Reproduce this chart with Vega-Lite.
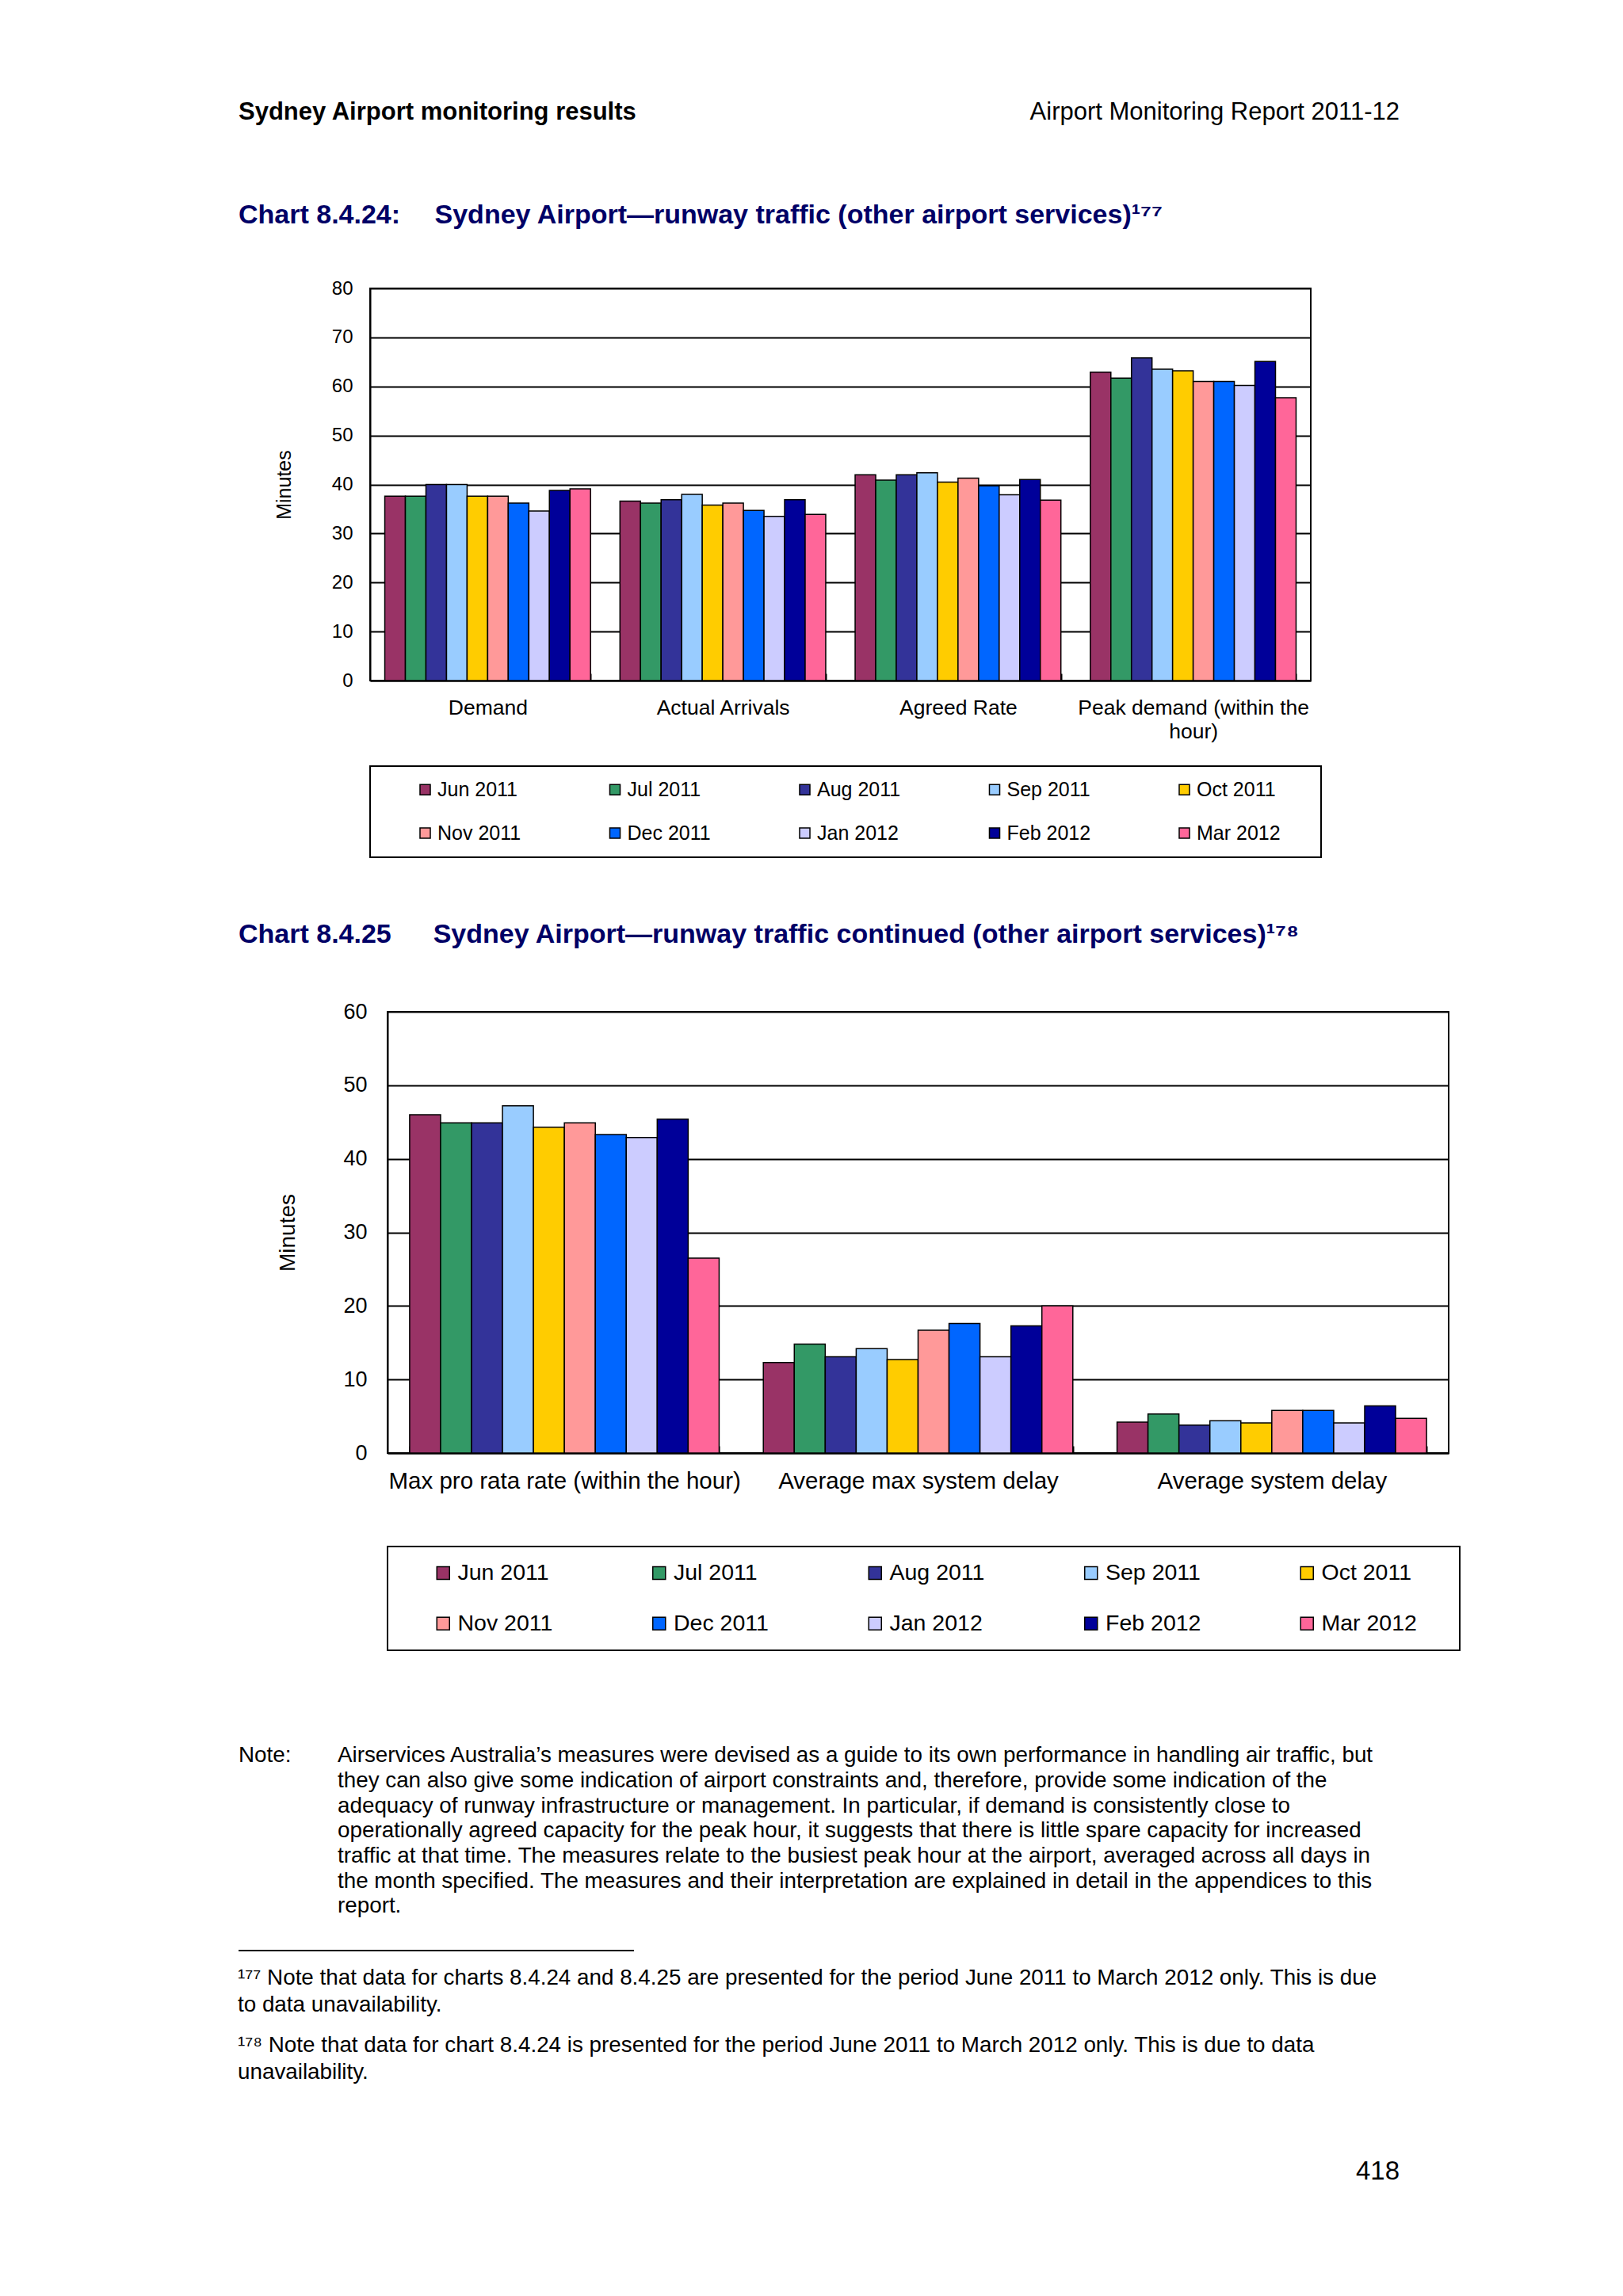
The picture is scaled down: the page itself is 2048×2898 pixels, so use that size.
{
  "$schema": "https://vega.github.io/schema/vega-lite/v6.json",
  "background": "white",
  "padding": {"left": 300, "top": 100, "right": 10, "bottom": 10},
  "config": {
    "font": "Liberation Sans",
    "view": {"stroke": null},
    "title": {"font": "Liberation Sans", "color": "black", "subtitleFont": "Liberation Sans", "subtitleColor": "black"},
    "axis": {"labelFont": "Liberation Sans", "titleFont": "Liberation Sans", "labelColor": "black", "titleColor": "black"},
    "legend": {"labelFont": "Liberation Sans", "labelColor": "black", "strokeWidth": 2}
  },
  "datasets": {
    "runway": [
      {"measure": "Demand", "month": "Jun 2011", "minutes": 37.6},
      {"measure": "Demand", "month": "Jul 2011", "minutes": 37.6},
      {"measure": "Demand", "month": "Aug 2011", "minutes": 40.0},
      {"measure": "Demand", "month": "Sep 2011", "minutes": 40.0},
      {"measure": "Demand", "month": "Oct 2011", "minutes": 37.6},
      {"measure": "Demand", "month": "Nov 2011", "minutes": 37.6},
      {"measure": "Demand", "month": "Dec 2011", "minutes": 36.2},
      {"measure": "Demand", "month": "Jan 2012", "minutes": 34.6},
      {"measure": "Demand", "month": "Feb 2012", "minutes": 38.8},
      {"measure": "Demand", "month": "Mar 2012", "minutes": 39.1},
      {"measure": "Actual Arrivals", "month": "Jun 2011", "minutes": 36.6},
      {"measure": "Actual Arrivals", "month": "Jul 2011", "minutes": 36.2},
      {"measure": "Actual Arrivals", "month": "Aug 2011", "minutes": 36.9},
      {"measure": "Actual Arrivals", "month": "Sep 2011", "minutes": 38.0},
      {"measure": "Actual Arrivals", "month": "Oct 2011", "minutes": 35.8},
      {"measure": "Actual Arrivals", "month": "Nov 2011", "minutes": 36.2},
      {"measure": "Actual Arrivals", "month": "Dec 2011", "minutes": 34.7},
      {"measure": "Actual Arrivals", "month": "Jan 2012", "minutes": 33.5},
      {"measure": "Actual Arrivals", "month": "Feb 2012", "minutes": 36.9},
      {"measure": "Actual Arrivals", "month": "Mar 2012", "minutes": 33.9},
      {"measure": "Agreed Rate", "month": "Jun 2011", "minutes": 42.0},
      {"measure": "Agreed Rate", "month": "Jul 2011", "minutes": 40.9},
      {"measure": "Agreed Rate", "month": "Aug 2011", "minutes": 42.0},
      {"measure": "Agreed Rate", "month": "Sep 2011", "minutes": 42.4},
      {"measure": "Agreed Rate", "month": "Oct 2011", "minutes": 40.5},
      {"measure": "Agreed Rate", "month": "Nov 2011", "minutes": 41.3},
      {"measure": "Agreed Rate", "month": "Dec 2011", "minutes": 39.7},
      {"measure": "Agreed Rate", "month": "Jan 2012", "minutes": 37.9},
      {"measure": "Agreed Rate", "month": "Feb 2012", "minutes": 41.0},
      {"measure": "Agreed Rate", "month": "Mar 2012", "minutes": 36.8},
      {"measure": "Peak demand (within the hour)", "month": "Jun 2011", "minutes": 62.9},
      {"measure": "Peak demand (within the hour)", "month": "Jul 2011", "minutes": 61.7},
      {"measure": "Peak demand (within the hour)", "month": "Aug 2011", "minutes": 65.8},
      {"measure": "Peak demand (within the hour)", "month": "Sep 2011", "minutes": 63.5},
      {"measure": "Peak demand (within the hour)", "month": "Oct 2011", "minutes": 63.2},
      {"measure": "Peak demand (within the hour)", "month": "Nov 2011", "minutes": 61.0},
      {"measure": "Peak demand (within the hour)", "month": "Dec 2011", "minutes": 61.0},
      {"measure": "Peak demand (within the hour)", "month": "Jan 2012", "minutes": 60.2},
      {"measure": "Peak demand (within the hour)", "month": "Feb 2012", "minutes": 65.1},
      {"measure": "Peak demand (within the hour)", "month": "Mar 2012", "minutes": 57.7}
    ],
    "continued": [
      {"measure": "Max pro rata rate (within the hour)", "month": "Jun 2011", "minutes": 46.0},
      {"measure": "Max pro rata rate (within the hour)", "month": "Jul 2011", "minutes": 44.9},
      {"measure": "Max pro rata rate (within the hour)", "month": "Aug 2011", "minutes": 44.9},
      {"measure": "Max pro rata rate (within the hour)", "month": "Sep 2011", "minutes": 47.2},
      {"measure": "Max pro rata rate (within the hour)", "month": "Oct 2011", "minutes": 44.3},
      {"measure": "Max pro rata rate (within the hour)", "month": "Nov 2011", "minutes": 44.9},
      {"measure": "Max pro rata rate (within the hour)", "month": "Dec 2011", "minutes": 43.3},
      {"measure": "Max pro rata rate (within the hour)", "month": "Jan 2012", "minutes": 42.9},
      {"measure": "Max pro rata rate (within the hour)", "month": "Feb 2012", "minutes": 45.4},
      {"measure": "Max pro rata rate (within the hour)", "month": "Mar 2012", "minutes": 26.5},
      {"measure": "Average max  system delay", "month": "Jun 2011", "minutes": 12.3},
      {"measure": "Average max  system delay", "month": "Jul 2011", "minutes": 14.8},
      {"measure": "Average max  system delay", "month": "Aug 2011", "minutes": 13.1},
      {"measure": "Average max  system delay", "month": "Sep 2011", "minutes": 14.2},
      {"measure": "Average max  system delay", "month": "Oct 2011", "minutes": 12.7},
      {"measure": "Average max  system delay", "month": "Nov 2011", "minutes": 16.7},
      {"measure": "Average max  system delay", "month": "Dec 2011", "minutes": 17.6},
      {"measure": "Average max  system delay", "month": "Jan 2012", "minutes": 13.1},
      {"measure": "Average max  system delay", "month": "Feb 2012", "minutes": 17.3},
      {"measure": "Average max  system delay", "month": "Mar 2012", "minutes": 20.0},
      {"measure": "Average system delay", "month": "Jun 2011", "minutes": 4.2},
      {"measure": "Average system delay", "month": "Jul 2011", "minutes": 5.3},
      {"measure": "Average system delay", "month": "Aug 2011", "minutes": 3.8},
      {"measure": "Average system delay", "month": "Sep 2011", "minutes": 4.4},
      {"measure": "Average system delay", "month": "Oct 2011", "minutes": 4.1},
      {"measure": "Average system delay", "month": "Nov 2011", "minutes": 5.8},
      {"measure": "Average system delay", "month": "Dec 2011", "minutes": 5.8},
      {"measure": "Average system delay", "month": "Jan 2012", "minutes": 4.1},
      {"measure": "Average system delay", "month": "Feb 2012", "minutes": 6.4},
      {"measure": "Average system delay", "month": "Mar 2012", "minutes": 4.7}
    ]
  },
  "resolve": {"scale": {"color": "independent", "xOffset": "independent"}, "legend": {"color": "independent"}},
  "spacing": 0,
  "vconcat": [
    {
      "bounds": "flush",
      "spacing": 0,
      "hconcat": [
        {
          "width": 732, "height": 80,
          "data": {"values": []}, "mark": "text", "encoding": {},
          "title": {"text": "Sydney Airport monitoring results", "orient": "bottom", "anchor": "start", "fontSize": 31, "fontWeight": "bold", "offset": -53.3}
        },
        {
          "width": 733, "height": 80,
          "data": {"values": []}, "mark": "text", "encoding": {},
          "title": {"text": "Airport Monitoring Report 2011-12", "orient": "bottom", "anchor": "end", "fontSize": 31, "fontWeight": "normal", "offset": -53.3}
        }
      ]
    },
    {
      "width": 1465, "height": 171,
      "data": {"values": []}, "mark": "text", "encoding": {},
      "title": {"text": "Chart 8.4.24:\u2003 Sydney Airport\u2014runway traffic (other airport services)\u00b9\u2077\u2077", "orient": "bottom", "anchor": "start", "fontSize": 34, "fontWeight": "bold", "color": "#000066", "offset": -95.6}
    },
    {
      "bounds": "flush",
      "spacing": 0,
      "resolve": {"scale": {"color": "independent", "xOffset": "independent"}, "legend": {"color": "independent"}},
      "hconcat": [
        {"width": 166, "height": 737, "data": {"values": []}, "mark": "text", "encoding": {}},
        {
          "width": 1187, "height": 495,
          "view": {"stroke": "black", "strokeWidth": 2},
          "data": {"name": "runway"},
          "mark": {"type": "bar", "stroke": "black", "strokeWidth": 1.5},
          "encoding": {
            "x": {
              "field": "measure", "type": "nominal", "title": null,
              "sort": ["Demand", "Actual Arrivals", "Agreed Rate", "Peak demand (within the hour)"],
              "scale": {"paddingInner": 0.125, "paddingOuter": 0.0625},
              "axis": {
                "labelAngle": 0, "labelFontSize": 26.5, "labelPadding": 30, "labelLimit": 0, "labelOverlap": false, "labelLineHeight": 30,
                "labelExpr": "datum.label == 'Peak demand (within the hour)' ? ['Peak demand (within the', 'hour)'] : datum.label",
                "domainColor": "black", "domainWidth": 2,
                "ticks": true, "tickBand": "extent", "tickSize": -9, "tickColor": "black", "tickWidth": 2
              }
            },
            "xOffset": {
              "field": "month", "type": "nominal",
              "sort": ["Jun 2011", "Jul 2011", "Aug 2011", "Sep 2011", "Oct 2011", "Nov 2011", "Dec 2011", "Jan 2012", "Feb 2012", "Mar 2012"],
              "scale": {"paddingInner": 0, "paddingOuter": 0}
            },
            "y": {
              "field": "minutes", "type": "quantitative",
              "scale": {"domain": [0, 80], "nice": false},
              "axis": {
                "title": "Minutes", "titleFontSize": 25, "titleFontWeight": "normal", "titlePadding": 47,
                "labelFontSize": 24, "labelPadding": 22, "ticks": false,
                "values": [0, 10, 20, 30, 40, 50, 60, 70, 80],
                "domainColor": "black", "domainWidth": 2,
                "gridColor": "black", "gridWidth": 2, "gridOpacity": 1
              }
            },
            "color": {
              "field": "month", "type": "nominal",
              "sort": ["Jun 2011", "Jul 2011", "Aug 2011", "Sep 2011", "Oct 2011", "Nov 2011", "Dec 2011", "Jan 2012", "Feb 2012", "Mar 2012"],
              "scale": {
                "domain": ["Jun 2011", "Jul 2011", "Aug 2011", "Sep 2011", "Oct 2011", "Nov 2011", "Dec 2011", "Jan 2012", "Feb 2012", "Mar 2012"],
                "range": ["#993366", "#339966", "#333399", "#99CCFF", "#FFCC00", "#FF9999", "#0066FF", "#CCCCFF", "#000099", "#FF6699"]
              },
              "legend": {
                "title": "\u00a0", "titleOrient": "right", "titleFontSize": 8, "titlePadding": 34,
                "orient": "bottom", "direction": "horizontal", "columns": 5, "gridAlign": "all",
                "symbolType": "square", "symbolSize": 170, "symbolStrokeColor": "black", "symbolStrokeWidth": 1.5,
                "labelFontSize": 25, "labelLimit": 0, "labelOffset": 3,
                "columnPadding": 65.5, "rowPadding": 29, "padding": 17, "symbolOffset": 40,
                "strokeColor": "black", "fillColor": "white", "offset": 30
              }
            }
          }
        }
      ]
    },
    {
      "width": 1465, "height": 161,
      "data": {"values": []}, "mark": "text", "encoding": {},
      "title": {"text": "Chart 8.4.25\u2003\u00a0 Sydney Airport\u2014runway traffic continued (other airport services)\u00b9\u2077\u2078", "orient": "bottom", "anchor": "start", "fontSize": 34, "fontWeight": "bold", "color": "#000066", "offset": -98.6}
    },
    {
      "bounds": "flush",
      "spacing": 0,
      "resolve": {"scale": {"color": "independent", "xOffset": "independent"}, "legend": {"color": "independent"}},
      "hconcat": [
        {"width": 188, "height": 875, "data": {"values": []}, "mark": "text", "encoding": {}},
        {
          "width": 1339, "height": 557,
          "view": {"stroke": "black", "strokeWidth": 2},
          "data": {"name": "continued"},
          "mark": {"type": "bar", "stroke": "black", "strokeWidth": 1.5},
          "encoding": {
            "x": {
              "field": "measure", "type": "nominal", "title": null,
              "sort": ["Max pro rata rate (within the hour)", "Average max  system delay", "Average system delay"],
              "scale": {"paddingInner": 0.125, "paddingOuter": 0.0625},
              "axis": {
                "labelAngle": 0, "labelFontSize": 29.5, "labelPadding": 30, "labelLimit": 0, "labelOverlap": false,
                "domainColor": "black", "domainWidth": 2,
                "ticks": true, "tickBand": "extent", "tickSize": -9, "tickColor": "black", "tickWidth": 2
              }
            },
            "xOffset": {
              "field": "month", "type": "nominal",
              "sort": ["Jun 2011", "Jul 2011", "Aug 2011", "Sep 2011", "Oct 2011", "Nov 2011", "Dec 2011", "Jan 2012", "Feb 2012", "Mar 2012"],
              "scale": {"paddingInner": 0, "paddingOuter": 0}
            },
            "y": {
              "field": "minutes", "type": "quantitative",
              "scale": {"domain": [0, 60], "nice": false},
              "axis": {
                "title": "Minutes", "titleFontSize": 28, "titleFontWeight": "normal", "titlePadding": 55,
                "labelFontSize": 27, "labelPadding": 26, "ticks": false,
                "values": [0, 10, 20, 30, 40, 50, 60],
                "domainColor": "black", "domainWidth": 2,
                "gridColor": "black", "gridWidth": 2, "gridOpacity": 1
              }
            },
            "color": {
              "field": "month", "type": "nominal",
              "sort": ["Jun 2011", "Jul 2011", "Aug 2011", "Sep 2011", "Oct 2011", "Nov 2011", "Dec 2011", "Jan 2012", "Feb 2012", "Mar 2012"],
              "scale": {
                "domain": ["Jun 2011", "Jul 2011", "Aug 2011", "Sep 2011", "Oct 2011", "Nov 2011", "Dec 2011", "Jan 2012", "Feb 2012", "Mar 2012"],
                "range": ["#993366", "#339966", "#333399", "#99CCFF", "#FFCC00", "#FF9999", "#0066FF", "#CCCCFF", "#000099", "#FF6699"]
              },
              "legend": {
                "title": "\u00a0", "titleOrient": "right", "titleFontSize": 8, "titlePadding": 35,
                "orient": "bottom", "direction": "horizontal", "columns": 5, "gridAlign": "all",
                "symbolType": "square", "symbolSize": 256, "symbolStrokeColor": "black", "symbolStrokeWidth": 1.5,
                "labelFontSize": 28.5, "labelLimit": 0, "labelOffset": 4,
                "columnPadding": 82.5, "rowPadding": 35, "padding": 19, "symbolOffset": 37,
                "strokeColor": "black", "fillColor": "white", "offset": 68
              }
            }
          }
        }
      ]
    },
    {
      "bounds": "flush",
      "spacing": 0,
      "hconcat": [
        {
          "width": 125, "height": 300,
          "data": {"values": []}, "mark": "text", "encoding": {},
          "title": {"text": "Note:", "orient": "bottom", "anchor": "start", "fontSize": 27.8, "fontWeight": "normal", "offset": -249.8}
        },
        {
          "width": 1340, "height": 300,
          "data": {"values": []}, "mark": "text", "encoding": {},
          "title": {
            "text": [
              "Airservices Australia\u2019s measures were devised as a guide to its own performance in handling air traffic, but",
              "they can also give some indication of airport constraints and, therefore, provide some indication of the",
              "adequacy of runway infrastructure or management. In particular, if demand is consistently close to",
              "operationally agreed capacity for the peak hour, it suggests that there is little spare capacity for increased",
              "traffic at that time. The measures relate to the busiest peak hour at the airport, averaged across all days in",
              "the month specified. The measures and their interpretation are explained in detail in the appendices to this",
              "report."
            ],
            "orient": "bottom", "anchor": "start", "fontSize": 27.8, "fontWeight": "normal", "lineHeight": 31.7, "offset": -249.8
          }
        }
      ]
    },
    {
      "bounds": "flush",
      "spacing": 0,
      "hconcat": [
        {
          "width": 499, "height": 0,
          "data": {"values": [{"from": 0, "to": 1}]},
          "mark": {"type": "rule", "stroke": "black", "strokeWidth": 2},
          "encoding": {
            "x": {"field": "from", "type": "quantitative", "scale": {"domain": [0, 1]}, "axis": null},
            "x2": {"field": "to"}
          },
          "title": {
            "text": [
              "\u00b9\u2077\u2077 Note that data for charts 8.4.24 and 8.4.25 are presented for the period June 2011 to March 2012 only. This is due",
              "to data unavailability."
            ],
            "subtitle": [
              "\u00b9\u2077\u2078 Note that data for chart 8.4.24 is presented for the period June 2011 to March 2012 only. This is due to data",
              "unavailability."
            ],
            "orient": "bottom", "anchor": "start", "fontSize": 27.8, "fontWeight": "normal", "lineHeight": 34, "offset": 11.4,
            "subtitleFontSize": 27.8, "subtitleLineHeight": 34, "subtitlePadding": 23
          }
        },
        {
          "width": 966, "height": 0,
          "data": {"values": []}, "mark": "text", "encoding": {},
          "title": {"text": "418", "orient": "bottom", "anchor": "end", "fontSize": 33, "fontWeight": "normal", "offset": 252.8}
        }
      ]
    }
  ]
}
